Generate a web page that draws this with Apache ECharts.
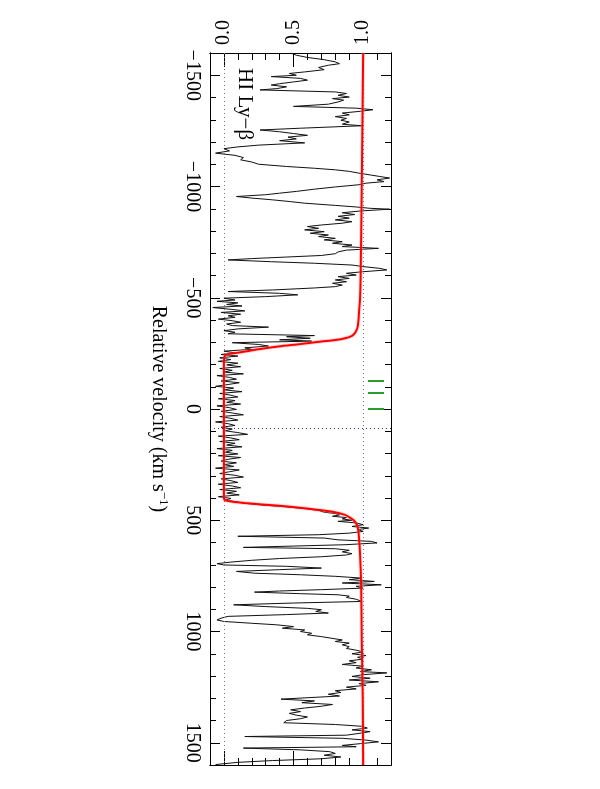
<!DOCTYPE html>
<html>
<head>
<meta charset="utf-8">
<script src="https://cdn.jsdelivr.net/npm/echarts@6/dist/echarts.min.js"></script>
<style>html,body{margin:0;padding:0;background:#fff}#c{width:600px;height:789px}</style>
</head>
<body>
<div id="c"></div>
<script>
// Observed spectrum: velocity (km/s) and normalized flux
const specVel = [-1600,-1590,-1580,-1570,-1560,-1552,-1545,-1535,-1525,-1515,-1508,-1500,-1494,-1486,-1478,-1470,-1462,-1456,-1448,-1440,-1434,-1425,-1418,-1410,-1402,-1395,-1388,-1380,-1370,-1360,-1352,-1345,-1338,-1330,-1322,-1314,-1306,-1298,-1290,-1280,-1273,-1262,-1254,-1246,-1238,-1230,-1222,-1214,-1206,-1196,-1186,-1178,-1170,-1160,-1150,-1140,-1130,-1120,-1110,-1100,-1090,
-1082,-1075,-1068,-1060,-1052,-1045,-1038,-1030,-1022,-1015,-1008,-998,-988,-978,-970,-963,-955,-948,-940,-932,-925,-915,-908,-902,-898,-890,-882,-874,-866,-858,-850,-842,-835,-827,-820,-812,-805,-797,-790,-782,-775,-767,-760,-752,-745,-737,-730,-722,-714,-706,-698,-690,-683,-676,-670,-662,-655,-647,-640,-632,-625,-617,-610,-602,-595,-587,-580,-572,-565,-557,
-550,-544,-535,-528,-520,-513,-505,-498,-490,-484,-477,-470,-463,-456,-448,-441,-434,-426,-419,-412,-404,-397,-390,-382,-375,-368,-360,-352,-345,-338,-330,-325,-318,-311,-305,-298,-290,-283,-275,-268,-260,-252,-245,-238,-230,
-222,-214,-206,-198,-190,-182,-174,-166,-158,-150,-142,-134,-126,-118,-110,-102,-94,-86,-78,-70,-62,-54,-46,-38,-30,-22,-14,-6,2,10,18,26,34,42,50,58,66,74,82,90,98,106,114,122,130,138,146,154,162,170,178,186,194,202,210,218,226,234,242,250,258,266,274,282,290,298,306,314,322,330,338,346,354,362,370,378,386,394,402,410,416,424,432,440,448,456,464,470,476,482,488,494,500,
505,512,520,528,535,542,550,558,565,572,580,588,595,602,610,616,622,628,635,642,650,656,664,672,680,688,695,701,707,715,722,730,738,745,752,760,767,775,782,790,797,805,812,818,823,830,835,841,847,855,865,872,880,888,896,902,910,917,924,932,940,948,955,963,970,978,985,993,1000,1008,1015,1023,1030,1038,
1045,1052,1060,1068,1076,1084,1092,1100,1108,1116,1124,1132,1140,1148,1156,1164,1172,1180,1186,1194,1202,1210,1218,1226,1234,1242,1250,1258,1266,1274,1282,1290,1298,1304,1312,1320,1328,1336,1344,1352,1360,1368,1376,1384,1392,1400,1410,1418,1426,1434,1442,1450,1458,1466,1472,1480,1488,1496,1504,1512,1518,1524,1532,1540,1548,1556,1564,1572,1580,1588,1598];
const specFlux = [0.48,0.52,0.60,0.72,0.80,0.83,0.75,0.68,0.72,0.58,0.47,0.52,0.34,0.55,0.60,0.50,0.40,0.34,0.45,0.38,0.26,0.80,0.88,0.82,0.90,0.78,0.86,0.82,0.75,0.50,0.95,1.07,0.98,0.85,0.90,0.80,0.88,0.84,0.90,0.85,0.99,0.55,0.26,0.40,0.50,0.60,0.46,0.52,0.40,0.58,0.25,0.10,0.00,0.04,-0.06,0.08,0.14,0.12,0.20,0.25,0.45,
0.65,0.80,0.90,0.97,1.05,1.12,1.19,1.10,1.15,1.02,0.97,0.80,0.65,0.52,0.40,0.30,0.09,0.20,0.35,0.48,0.58,0.80,0.95,1.05,1.19,0.98,0.85,0.94,0.82,0.90,0.80,0.92,0.85,0.70,0.60,0.68,0.58,0.72,0.62,0.75,0.68,0.80,0.72,0.85,0.78,0.92,0.85,1.11,0.88,0.82,0.80,0.70,0.45,0.20,0.03,0.34,0.65,0.92,1.00,1.12,1.17,1.00,0.88,0.95,0.82,0.90,0.80,0.88,0.78,0.85,
0.80,0.65,0.35,0.03,0.40,0.53,0.30,0.00,0.08,-0.05,0.10,0.02,0.13,-0.08,0.05,0.15,-0.02,0.12,0.03,0.08,-0.04,0.06,0.12,0.02,0.06,0.32,0.10,0.00,0.08,0.03,0.65,0.45,0.62,0.40,0.63,0.06,0.25,0.32,0.15,0.20,0.00,0.08,-0.02,0.10,-0.03,
0.05,-0.04,0.10,0.02,0.12,-0.03,0.06,0.00,0.14,-0.05,0.04,0.09,-0.02,0.11,0.03,-0.06,0.07,0.00,0.13,-0.03,0.05,0.10,-0.04,0.08,0.02,0.12,-0.05,0.04,0.09,-0.02,0.06,0.14,-0.03,0.05,0.10,-0.06,0.03,0.08,-0.02,0.06,0.01,0.10,0.17,-0.04,0.05,0.11,-0.03,0.08,0.02,0.13,-0.05,0.06,0.01,0.10,-0.04,0.12,0.03,-0.02,0.09,0.00,0.07,-0.06,0.11,0.04,-0.03,0.08,0.14,-0.02,0.05,0.10,-0.04,0.06,0.12,-0.03,0.09,0.02,0.11,-0.04,0.05,0.01,0.08,0.15,0.28,0.45,0.58,0.68,0.72,0.80,0.83,0.78,0.88,0.85,0.92,
0.82,0.95,1.00,0.92,1.04,0.96,1.00,0.90,0.68,0.10,0.72,0.82,1.06,1.10,0.87,0.50,0.14,0.80,0.90,0.85,0.92,0.88,0.70,0.40,0.20,0.05,-0.05,0.00,0.45,0.70,0.40,0.09,0.22,0.55,0.80,0.99,0.90,1.08,0.85,1.13,0.95,1.00,0.70,0.40,0.22,0.55,0.82,0.90,0.88,0.95,0.99,0.50,0.07,0.30,0.60,0.70,0.66,0.75,0.45,0.03,-0.02,-0.05,0.00,0.20,0.38,0.50,0.42,0.58,0.55,0.63,0.60,0.70,0.77,0.85,
0.80,0.90,0.85,0.90,0.88,0.95,1.00,0.92,1.02,0.96,1.00,0.90,0.95,0.85,1.00,0.95,1.06,0.98,1.17,1.00,0.92,1.05,0.90,1.11,0.97,1.02,0.88,0.95,0.80,0.84,0.75,0.83,0.82,0.41,0.65,0.56,0.78,0.70,0.58,0.48,0.55,0.47,0.52,0.60,0.55,0.45,0.43,0.80,0.99,1.03,0.92,1.05,0.97,0.88,0.15,0.85,1.02,1.11,0.98,0.85,0.95,0.14,0.55,0.76,0.80,0.72,0.84,0.70,0.35,0.10,-0.06];

// Fitted model (red)
const modelVel  = [-1600,-1000,-600,-500,-450,-374,-345,-329,-318,-310,-303,-292,-281,-270,-258,-250,-246,-238,-200,400,410,418,423,435,446,461,476,490,499,520,550,655,805,1040,1300,1600];
const modelFlux = [1.00,0.99,0.982,0.978,0.972,0.962,0.945,0.92,0.87,0.80,0.70,0.55,0.39,0.26,0.15,0.07,0.03,0.005,0.0,0.0,0.01,0.08,0.15,0.40,0.58,0.77,0.87,0.91,0.93,0.955,0.966,0.978,0.986,0.99,0.997,1.0];

// Component markers (green) and reference lines
const compVel = [-126, -73, -2];
const compFlux = [1.035, 1.15];
const zeroVel = 86;
const fluxRefs = [0.0, 1.0];

// Axis ticks
const velRange = [-1600, 1600];
const fluxRange = [-0.1, 1.2];
const velMajor = [-1500, -1000, -500, 0, 500, 1000, 1500];
const fluxMajor = [0.0, 0.5, 1.0];
const velMinor = []; for (let v = -1500; v <= 1500; v += 100) velMinor.push(v);
const fluxMinor = []; for (let i = 0; i <= 11; i++) fluxMinor.push(+(i * 0.1).toFixed(1));

const FONT = 'Liberation Serif';
const spec = specVel.map((v, i) => [specFlux[i], v]);
const model = modelVel.map((v, i) => [modelFlux[i], v]);

function xAx(pos, ticks, len, labels) {
  return {
    type: 'value', position: pos, min: fluxRange[0], max: fluxRange[1],
    axisLine: { show: true, onZero: false, lineStyle: { color: '#000', width: 1 } },
    splitLine: { show: false },
    axisTick: { show: true, inside: true, length: len, customValues: ticks, lineStyle: { color: '#000', width: 1 } },
    axisLabel: labels ? {
      show: true, customValues: fluxMajor, rotate: -90, margin: 8,
      fontFamily: FONT, fontSize: 20, color: '#000',
      formatter: v => v.toFixed(1)
    } : { show: false }
  };
}
function yAx(pos, ticks, len, labels) {
  const o = {
    type: 'value', position: pos, inverse: true, min: velRange[0], max: velRange[1],
    axisLine: { show: true, onZero: false, lineStyle: { color: '#000', width: 1 } },
    splitLine: { show: false },
    axisTick: { show: true, inside: true, length: len, customValues: ticks, lineStyle: { color: '#000', width: 1 } },
    axisLabel: labels ? {
      show: true, customValues: velMajor, rotate: -90, margin: 8,
      fontFamily: FONT, fontSize: 20, color: '#000',
      formatter: v => (v < 0 ? '\u2212' + Math.abs(v) : String(v))
    } : { show: false }
  };
  if (labels) {
    o.name = 'Relative velocity (km s{sup|\u22121})';
    o.nameLocation = 'middle';
    o.nameRotate = -90;
    o.nameGap = 40;
    o.nameTextStyle = { fontFamily: FONT, fontSize: 20, color: '#000', lineHeight: 24,
      rich: { sup: { fontFamily: FONT, fontSize: 13, color: '#000', verticalAlign: 'top', lineHeight: 24, padding: [0, 0, 8, 0] } } };
  }
  return o;
}

const chart = echarts.init(document.getElementById('c'), null, { renderer: 'canvas' });
chart.setOption({
  animation: false,
  backgroundColor: '#fff',
  grid: { left: 210, right: 209, top: 53, bottom: 24, containLabel: false },
  xAxis: [
    xAx('top', fluxMajor, 14, true),
    xAx('bottom', fluxMajor, 14, false),
    xAx('top', fluxMinor, 7, false),
    xAx('bottom', fluxMinor, 7, false)
  ],
  yAxis: [
    yAx('left', velMajor, 10, true),
    yAx('right', velMajor, 10, false),
    yAx('left', velMinor, 6, false),
    yAx('right', velMinor, 6, false)
  ],
  series: [
    {
      type: 'line', data: spec, showSymbol: false, symbol: 'none', clip: true,
      lineStyle: { color: '#111', width: 1 }, z: 3,
      markLine: {
        silent: true, symbol: 'none', animation: false,
        label: { show: false },
        data: [
          ...fluxRefs.map(f => ({ xAxis: f, lineStyle: { color: '#777', type: [1, 3], width: 1 } })),
          { yAxis: zeroVel, lineStyle: { color: '#2828a0', type: [1, 3], width: 1 } }
        ]
      }
    },
    {
      type: 'line', data: model, showSymbol: false, symbol: 'none', smooth: 0.3, clip: true,
      lineStyle: { color: 'rgba(255,140,140,0.3)', width: 4 }, z: 4
    },
    {
      type: 'line', data: model, showSymbol: false, symbol: 'none', smooth: 0.3, clip: true,
      lineStyle: { color: '#f00', width: 2 }, z: 5,
      markLine: {
        silent: true, symbol: 'none', animation: false, label: { show: false },
        lineStyle: { color: '#2a9d2a', width: 2, type: 'solid' },
        data: compVel.map(v => [{ coord: [compFlux[0], v] }, { coord: [compFlux[1], v] }])
      }
    }
  ],
  graphic: [{
    type: 'text', x: 245, y: 68, rotation: -Math.PI / 2,
    style: { text: 'HI Ly\u2212\u03b2', fontFamily: FONT, fontSize: 21, fill: '#000', align: 'left', verticalAlign: 'middle' },
    z: 10
  }]
});
</script>
</body>
</html>
